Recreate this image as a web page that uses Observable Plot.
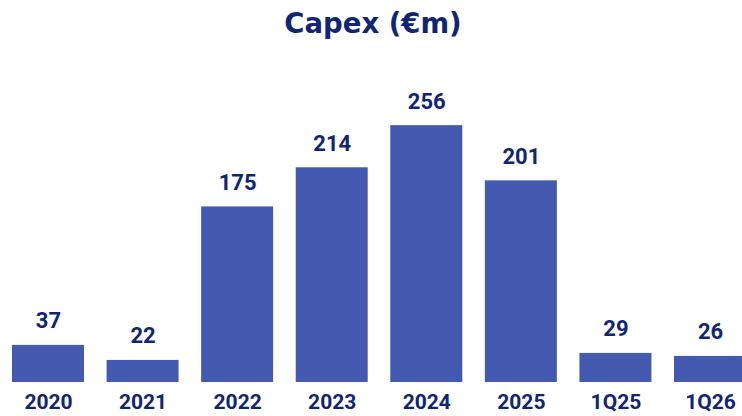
<!DOCTYPE html>
<html>
<head>
<meta charset="utf-8">
<script src="https://cdn.jsdelivr.net/npm/d3@7"></script>
<script src="https://cdn.jsdelivr.net/npm/@observablehq/plot@0.6"></script>
<style>
  html, body { margin: 0; padding: 0; background: #ffffff; overflow: hidden; }
  #title { height: 48px; line-height: 46px; text-align: center; font-family: "DejaVu Sans", sans-serif; font-weight: 700; font-size: 27.5px; color: #102574; padding-left: 4px; }
  #chart svg { display: block; overflow: hidden; }
</style>
</head>
<body>
<div id="title">Capex (€m)</div>
<div id="chart"></div>
<script>
const categories = ["2020", "2021", "2022", "2023", "2024", "2025", "1Q25", "1Q26"];
const values = [37, 22, 175, 214, 256, 201, 29, 26];
const data = categories.map((c, i) => ({category: c, value: values[i]}));

const textColor = "#102574";
const barColor = "#4459b0";

const chart = Plot.plot({
  width: 742,
  height: 368,
  marginLeft: 12,
  marginRight: 0,
  marginTop: 0,
  marginBottom: 34,
  style: {fontFamily: "Roboto, sans-serif", background: "#ffffff"},
  x: {domain: categories, paddingInner: 0.2387, paddingOuter: 0, range: [12, 746], round: false, label: null},
  y: {domain: [0, 300], range: [334, 33], axis: null},
  marks: [
    Plot.barY(data, {x: "category", y: "value", fill: barColor}),
    Plot.text(data, {x: "category", y: "value", text: d => String(d.value), dy: -17, lineAnchor: "bottom", fill: textColor, fontSize: 22, fontWeight: 700}),
    Plot.axisX({tickSize: 0, tickPadding: 12, fontSize: 21, fontWeight: 700, fill: textColor, label: null})
  ]
});
document.getElementById("chart").appendChild(chart);
</script>
</body>
</html>
